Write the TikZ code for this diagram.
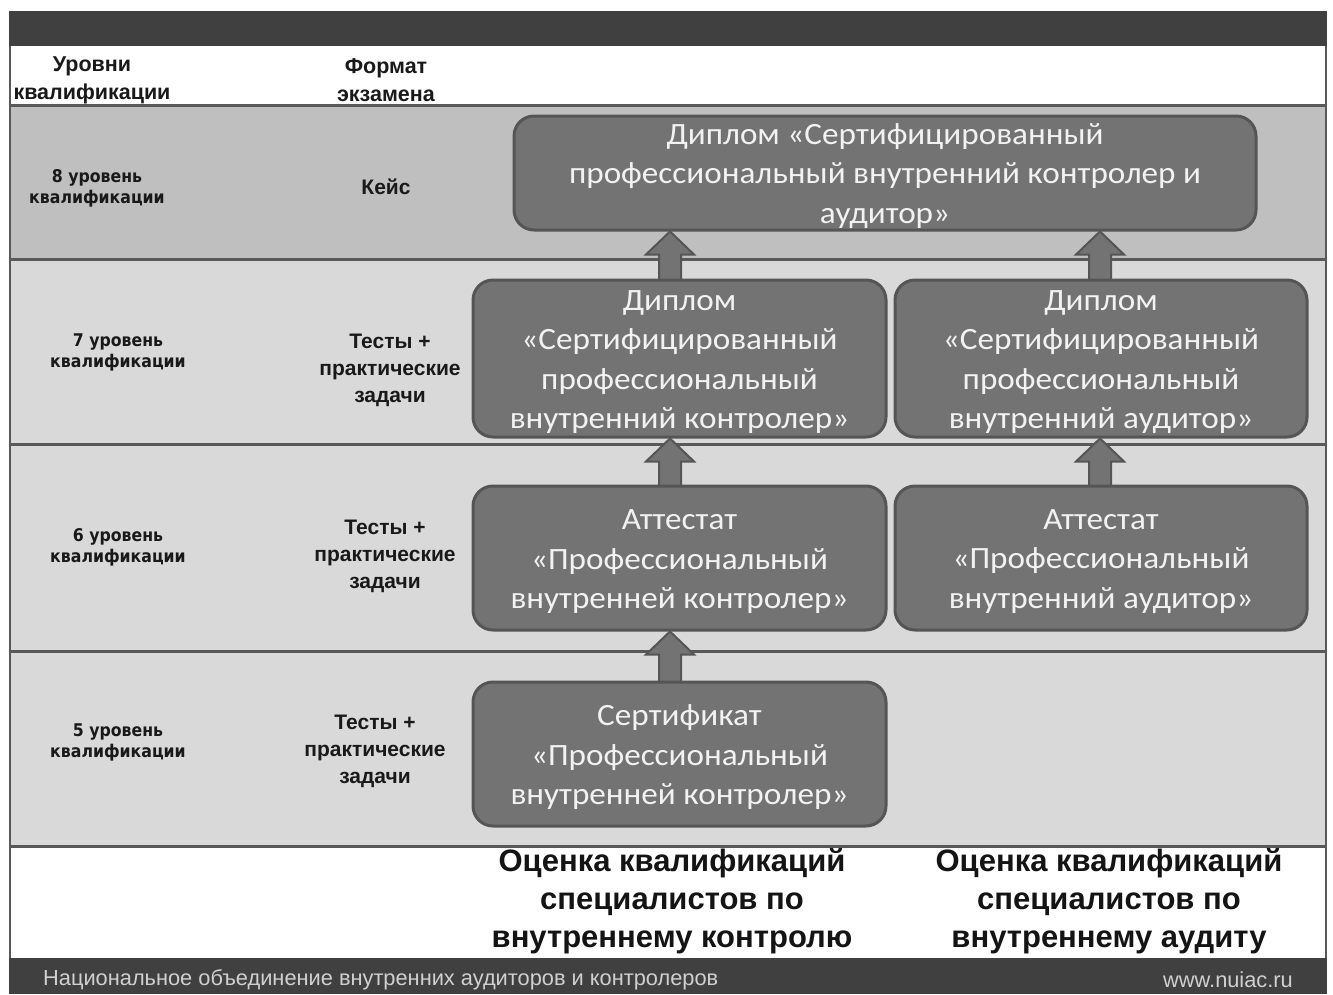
\documentclass[tikz,border=0pt]{standalone}
\usepackage{fontspec}
\setmainfont{Liberation Sans}
\newfontfamily\boxfont[FakeStretch=1.07]{Carlito}
\newfontfamily\lvlfont{DejaVu Sans Condensed}
\usetikzlibrary{calc,backgrounds}
\newcommand\mytopstrut{\rule{0pt}{27pt}}
\definecolor{barc}{HTML}{404040}
\definecolor{rowhi}{HTML}{BFBFBF}
\definecolor{rowlo}{HTML}{D9D9D9}
\definecolor{sepc}{HTML}{595959}
\definecolor{boxc}{HTML}{737373}
\definecolor{boxline}{HTML}{555555}
\definecolor{foottext}{HTML}{D0D0D0}
\tikzset{
  qbox/.style={draw=boxline, line width=3pt, fill=boxc, rounded corners=20pt,
    align=center, inner sep=0pt, text=white!95!black,
    font=\boxfont\fontsize{31}{39.5}\selectfont},
  lvl/.style={align=center, inner sep=0pt, text=black!90, font=\lvlfont\bfseries\fontsize{17.5}{21}\selectfont},
  fmt/.style={align=center, inner sep=0pt, text=black!90, font=\bfseries\fontsize{21}{27}\selectfont},
  hdr/.style={align=center, inner sep=0pt, text=black!90, font=\bfseries\fontsize{21.5}{28}\selectfont},
  bot/.style={align=center, inner sep=0pt, text=black!92, font=\bfseries\fontsize{31}{38}\selectfont},
  foot/.style={inner sep=0pt, text=foottext, font=\fontsize{21.8}{24}\selectfont},
  sepline/.style={draw=sepc, line width=3pt},
  blk/.style={fill=boxc, draw=boxline, line width=2pt, line join=miter}
}
\begin{document}
\begin{tikzpicture}[x=1pt,y=-1pt]
\useasboundingbox (0,0) rectangle (1333,994);

% boxes
\node[qbox, minimum width=742pt, minimum height=114pt] (d8) at (885,173)
  {\mytopstrut Диплом «Сертифицированный\\профессиональный внутренний контролер и\\аудитор»};
\node[qbox, minimum width=413pt, minimum height=157pt] (b7l) at (679.5,358.5)
  {\mytopstrut Диплом\\«Сертифицированный\\профессиональный\\внутренний контролер»};
\node[qbox, minimum width=412pt, minimum height=157pt] (b7r) at (1101,358.5)
  {\mytopstrut Диплом\\«Сертифицированный\\профессиональный\\внутренний аудитор»};
\node[qbox, minimum width=413pt, minimum height=144pt] (b6l) at (679.5,558)
  {\mytopstrut Аттестат\\«Профессиональный\\внутренней контролер»};
\node[qbox, minimum width=412pt, minimum height=144pt] (b6r) at (1101,558)
  {\mytopstrut Аттестат\\«Профессиональный\\внутренний аудитор»};
\node[qbox, minimum width=413pt, minimum height=144pt] (b5l) at (679.5,754)
  {\mytopstrut Сертификат\\«Профессиональный\\внутренней контролер»};

% left labels
\node[hdr] (h1) at (92,80.5) {Уровни\\квалификации};
\node[hdr] (h2) at (386,80.5) {Формат\\экзамена};
\node[lvl] (l8) at (97,188) {8 уровень\\квалификации};
\node[lvl] (l7) at (118,352.5) {7 уровень\\квалификации};
\node[lvl] (l6) at (118,547.5) {6 уровень\\квалификации};
\node[lvl] (l5) at (118,742.5) {5 уровень\\квалификации};
\node[fmt] (f8) at (386,187) {Кейс};
\node[fmt] (f7) at (390,370) {Тесты +\\практические\\задачи};
\node[fmt] (f6) at (385,556) {Тесты +\\практические\\задачи};
\node[fmt] (f5) at (375,751) {Тесты +\\практические\\задачи};

% bottom captions
\node[bot] (c1) at (672,901) {Оценка квалификаций\\специалистов по\\внутреннему контролю};
\node[bot] (c2) at (1109,901) {Оценка квалификаций\\специалистов по\\внутреннему аудиту};

\coordinate (axl) at (670,0);
\coordinate (axr) at (1100,0);

\begin{scope}[on background layer]
  \fill[white] (0,0) rectangle (1333,994);
  \fill[barc] (9,11) rectangle (1327,46);
  \fill[rowhi] (9,105) rectangle (1327,259);
  \fill[rowlo] (9,259) rectangle (1327,846);
  \fill[barc] (9,958) rectangle (1327,994);
  \draw[sepline] (9,105) -- (1327,105);
  \draw[sepline] (9,259) -- (1327,259);
  \draw[sepline] (9,444) -- (1327,444);
  \draw[sepline] (9,651) -- (1327,651);
  \draw[sepline] (9,846) -- (1327,846);
  \draw[draw=sepc, line width=2.5pt] (10,46) -- (10,958);
  \draw[draw=sepc, line width=2.5pt] (1326,46) -- (1326,958);
  % block arrows
  \foreach \lo/\hi/\ax in {b7l/d8/axl, b7r/d8/axr, b6l/b7l/axl, b6r/b7r/axr, b5l/b6l/axl}{
    \draw[blk] let \p1=(\lo.north -| \ax), \p2=(\hi.south -| \ax) in
      (\x1-11pt,\y1-4pt) -- (\x1-11pt,\y2-23pt) -- (\x1-24pt,\y2-23pt) -- (\x2,\y2)
      -- (\x1+24pt,\y2-23pt) -- (\x1+11pt,\y2-23pt) -- (\x1+11pt,\y1-4pt) -- cycle;
  }
\end{scope}

% footer
\node[foot, anchor=west] (n1) at (43,980) {Национальное объединение внутренних аудиторов и контролеров};
\node[foot, anchor=east] (n2) at (1293,980) {www.nuiac.ru};
\end{tikzpicture}
\end{document}
